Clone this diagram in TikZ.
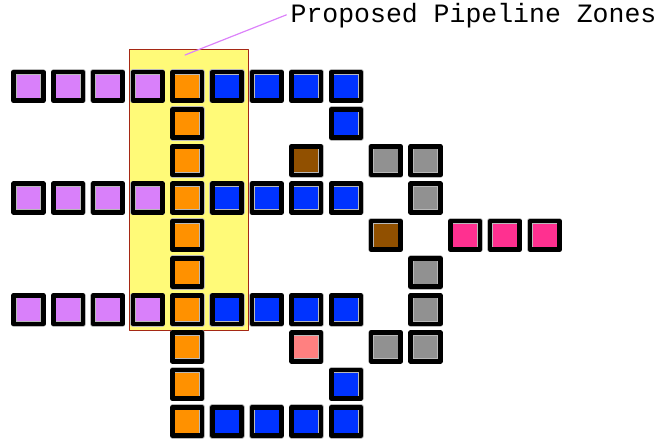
\documentclass[tikz,border=0pt]{standalone}
\usepackage{fontspec}
\newfontfamily\zonefont{Liberation Mono}
\definecolor{cellpurple}{RGB}{217,128,250}
\definecolor{cellorange}{RGB}{255,145,0}
\definecolor{cellblue}{RGB}{0,51,255}
\definecolor{cellbrown}{RGB}{145,80,0}
\definecolor{cellgray}{RGB}{145,145,145}
\definecolor{cellpink}{RGB}{255,48,144}
\definecolor{cellsalmon}{RGB}{255,128,128}
\definecolor{zoneyellow}{RGB}{255,250,120}
\definecolor{zoneedge}{RGB}{165,40,20}
\definecolor{pointer}{RGB}{220,130,250}
\tikzset{
  cellbox/.style={fill=#1, draw=gray!55, double=black, double distance=4.6pt,
    line width=0.5pt, minimum width=29.5pt, minimum height=28.5pt, inner sep=0pt},
  zonebox/.style={fill=zoneyellow, draw=zoneedge, line width=1pt,
    minimum width=119pt, minimum height=281pt, inner sep=0pt},
}
\begin{document}
\begin{tikzpicture}[x=1pt, y=-1pt, line join=round, line cap=round]
	\useasboundingbox (0,0) rectangle (660,442);
	% grid of cell places
	\foreach \r in {0,...,9}
		\foreach \c in {0,...,13}
			\coordinate (g\c-\r) at ({28.5+39.7*\c},{86.3+37.24*\r});
	% proposed zone and its label
	\node[zonebox] (zone) at (188.5,189.5) {};
	\node[font=\zonefont\fontsize{26.5}{30}\selectfont, anchor=base west, inner sep=0pt]
		(label) at (290.4,22.7) {Proposed Pipeline Zones};
	\coordinate (tip) at (185,55);
	\draw[pointer, line width=1.2pt] ([xshift=-4pt, yshift=1pt]label.west) -- (tip);
	% feeder rows
	\foreach \r in {0,3,6}
		\foreach \c in {0,...,3}
			\node[cellbox=cellpurple] (p\c-\r) at (g\c-\r) {};
	% main column
	\foreach \r in {0,...,9}
		\node[cellbox=cellorange] (o\r) at (g4-\r) {};
	% blue runs
	\foreach \r in {0,3,6,9}
		\foreach \c in {5,...,8}
			\node[cellbox=cellblue] (b\c-\r) at (g\c-\r) {};
	\foreach \c/\r in {8/1, 8/8}
		\node[cellbox=cellblue] (b\c-\r) at (g\c-\r) {};
	% right side
	\foreach \c/\r in {7/2, 9/4}
		\node[cellbox=cellbrown] (n\c-\r) at (g\c-\r) {};
	\foreach \c/\r in {9/2, 10/2, 10/3, 10/5, 10/6, 9/7, 10/7}
		\node[cellbox=cellgray] (y\c-\r) at (g\c-\r) {};
	\foreach \c in {11,12,13}
		\node[cellbox=cellpink] (k\c) at (g\c-4) {};
	\node[cellbox=cellsalmon] (s7-7) at (g7-7) {};
\end{tikzpicture}
\end{document}
